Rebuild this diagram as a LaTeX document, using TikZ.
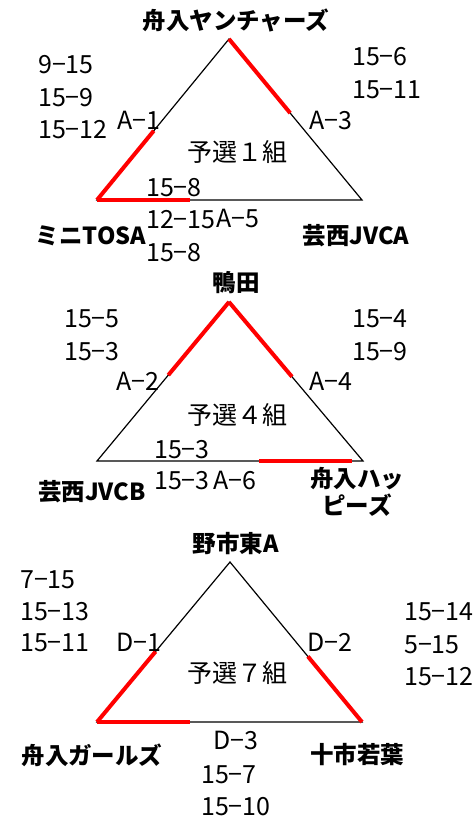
\documentclass[tikz,border=0pt]{standalone}
\usepackage{fontspec}
\setmainfont{Noto Sans CJK JP}
\usetikzlibrary{calc}
\tikzset{
  tri/.style={draw=black, line width=1.2pt, line join=miter},
  win/.style={draw=red, line width=4pt},
  txt/.style={font=\fontsize{25}{28}\selectfont, inner sep=0pt, anchor=west},
  ctxt/.style={font=\fontsize{25}{28}\selectfont, inner sep=0pt},
  team/.style={font=\fontsize{23.5}{27}\selectfont\bfseries, inner sep=0pt, align=center},
}
\begin{document}
\begin{tikzpicture}[x=1pt,y=-1pt]
\useasboundingbox (0,0) rectangle (476,820);
\fill[white] (0,0) rectangle (476,820);

% ---------- Group 1 ----------
\coordinate (a1) at (229,39);
\coordinate (b1) at (97,200);
\coordinate (c1) at (362,200);
\draw[tri] (a1) -- (b1) -- (c1) -- cycle;
\draw[win] (a1) -- ($(a1)!0.46!(c1)$);
\draw[win] (b1) -- ($(b1)!0.43!(a1)$);
\draw[win] (b1) -- ($(b1)!0.35!(c1)$);
\node[team] (t1a) at (236,20) {舟入ヤンチャーズ};
\node[team] (t1b) at (91,236) {ミニTOSA};
\node[team] (t1c) at (356,236) {芸西JVCA};
\node[ctxt] (g1) at (237,152) {予選１組};
\node[txt] (s1a) at (38,65) {9−15};
\node[txt] (s1b) at (38,98) {15−9};
\node[txt] (s1c) at (38,130) {15−12};
\node[txt] (m1a) at (117,120) {A−1};
\node[txt] (m1b) at (309,120) {A−3};
\node[txt] (s1d) at (352,57) {15−6};
\node[txt] (s1e) at (352,90) {15−11};
\node[txt] (s1f) at (146,188) {15−8};
\node[txt] (s1g) at (146,220) {12−15};
\node[txt] (m1c) at (216,218) {A−5};
\node[txt] (s1h) at (146,253) {15−8};

% ---------- Group 4 ----------
\coordinate (a2) at (229,302);
\coordinate (b2) at (97,461);
\coordinate (c2) at (363,461);
\draw[tri] (a2) -- (b2) -- (c2) -- cycle;
\draw[win] (a2) -- ($(a2)!0.46!(b2)$);
\draw[win] (a2) -- ($(a2)!0.47!(c2)$);
\draw[win] ($(b2)!0.61!(c2)$) -- ($(b2)!0.96!(c2)$);
\node[team] (t2a) at (236,283) {鴨田};
\node[team] (t2b) at (92,492) {芸西JVCB};
\node[team] (t2c) at (357,492) {舟入ハッ\\ピーズ};
\node[ctxt] (g2) at (237,415) {予選４組};
\node[txt] (s2a) at (64,319) {15−5};
\node[txt] (s2b) at (64,352) {15−3};
\node[txt] (m2a) at (116,381) {A−2};
\node[txt] (m2b) at (309,381) {A−4};
\node[txt] (s2c) at (352,319) {15−4};
\node[txt] (s2d) at (352,352) {15−9};
\node[txt] (s2e) at (154,450) {15−3};
\node[txt] (s2f) at (154,481) {15−3};
\node[txt] (m2c) at (213,480) {A−6};

% ---------- Group 7 ----------
\coordinate (a3) at (230,562);
\coordinate (b3) at (97,722);
\coordinate (c3) at (362,722);
\draw[tri] (a3) -- (b3) -- (c3) -- cycle;
\draw[win] (b3) -- ($(b3)!0.44!(a3)$);
\draw[win] ($(a3)!0.59!(c3)$) -- (c3);
\draw[win] (b3) -- ($(b3)!0.35!(c3)$);
\node[team] (t3a) at (236,544) {野市東A};
\node[team] (t3b) at (92,755) {舟入ガールズ};
\node[team] (t3c) at (357,755) {十市若葉};
\node[ctxt] (g3) at (237,673) {予選７組};
\node[txt] (s3a) at (20,580) {7−15};
\node[txt] (s3b) at (20,612) {15−13};
\node[txt] (s3c) at (20,643) {15−11};
\node[txt] (m3a) at (116,642) {D−1};
\node[txt] (m3b) at (307,642) {D−2};
\node[txt] (s3d) at (404,612) {15−14};
\node[txt] (s3e) at (404,645) {5−15};
\node[txt] (s3f) at (404,677) {15−12};
\node[txt] (m3c) at (213,740) {D−3};
\node[txt] (s3g) at (201,775) {15−7};
\node[txt] (s3h) at (201,807) {15−10};
\end{tikzpicture}
\end{document}
